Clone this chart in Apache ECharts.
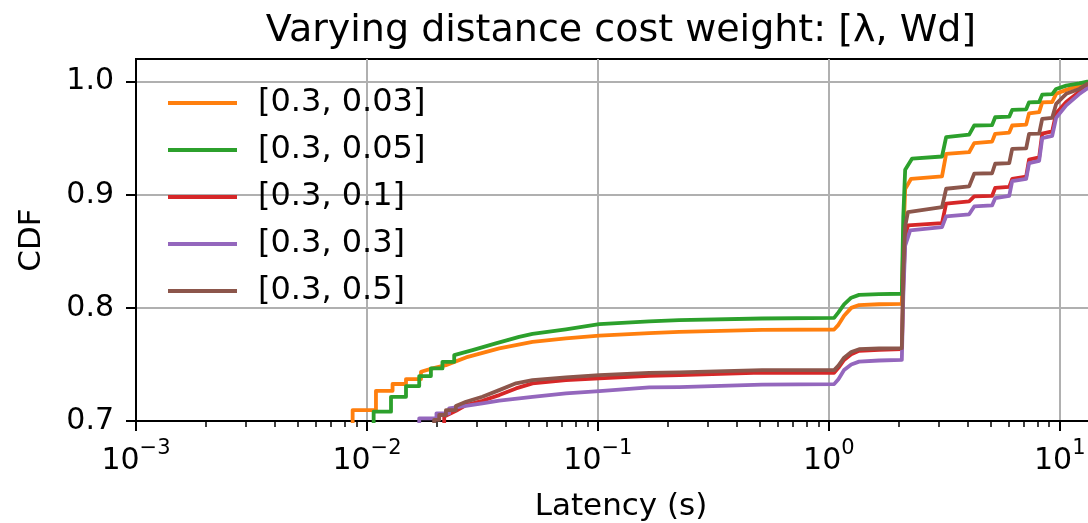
<!DOCTYPE html>
<html>
<head>
<meta charset="utf-8">
<script src="https://cdn.jsdelivr.net/npm/echarts@6/dist/echarts.min.js"></script>
<style>
  html, body { margin: 0; padding: 0; background: #fff; }
  #main { width: 1088px; height: 523px; }
</style>
</head>
<body>
<div id="main"></div>
<script>
// legend names, in plotting order
const names = ['[0.3, 0.03]', '[0.3, 0.05]', '[0.3, 0.1]', '[0.3, 0.3]', '[0.3, 0.5]'];
const colors = ['#ff7f0e', '#2ca02c', '#d62728', '#9467bd', '#8c564b'];

// [latency (s), CDF]
const w003 = [[0.00867, 0.69], [0.00867, 0.7097], [0.01094, 0.7097], [0.01094, 0.7267], [0.01291, 0.7267], [0.01291, 0.7327],
  [0.01476, 0.7327], [0.01476, 0.7371], [0.01714, 0.7371], [0.01714, 0.7435], [0.01923, 0.7465], [0.02198, 0.7494],
  [0.02685, 0.7562], [0.0374, 0.7642], [0.0521, 0.770], [0.0727, 0.773], [0.1014, 0.7755], [0.1668, 0.7777],
  [0.2249, 0.7788], [0.514, 0.7805], [1.054, 0.7809], [1.10, 0.785], [1.164, 0.793], [1.25, 0.80], [1.352, 0.8025],
  [1.65, 0.8032], [2.07, 0.8035], [2.10, 0.86], [2.14, 0.905], [2.27, 0.9141], [3.09, 0.9162], [3.22, 0.9362],
  [4.05, 0.9376], [4.26, 0.9456], [5.09, 0.947], [5.25, 0.9539], [6.04, 0.955], [6.22, 0.9612], [7.15, 0.962],
  [7.36, 0.972], [8.14, 0.973], [8.39, 0.9817], [9.27, 0.982], [9.64, 0.9892], [10.66, 0.9927], [12.14, 0.9965],
  [13.15, 0.9994], [16, 1.0]];
const w005 = [[0.01069, 0.69], [0.01069, 0.7082], [0.01271, 0.7082], [0.01271, 0.7214], [0.01476, 0.7214], [0.01476, 0.7309],
  [0.01684, 0.7309], [0.01684, 0.7397], [0.01892, 0.7397], [0.01892, 0.7465], [0.02123, 0.7465], [0.02123, 0.7523],
  [0.02387, 0.7523], [0.02387, 0.7582], [0.02865, 0.7626], [0.03615, 0.7686], [0.0456, 0.7744], [0.0521, 0.777],
  [0.0727, 0.781], [0.1014, 0.7856], [0.1668, 0.788], [0.2249, 0.7891], [0.514, 0.7906], [1.054, 0.7912], [1.10, 0.796],
  [1.164, 0.803], [1.25, 0.809], [1.352, 0.8115], [1.65, 0.8121], [2.07, 0.8125], [2.10, 0.88], [2.14, 0.922],
  [2.294, 0.932], [3.09, 0.9338], [3.22, 0.951], [4.05, 0.9532], [4.26, 0.9612], [5.09, 0.9615], [5.25, 0.9685],
  [6.04, 0.969], [6.22, 0.975], [7.15, 0.9755], [7.36, 0.9817], [8.14, 0.982], [8.39, 0.9885], [9.27, 0.989],
  [9.64, 0.9935], [10.66, 0.9965], [12.14, 0.9985], [13.15, 1.0], [16, 1.0]];
const w01 = [[0.0216, 0.69], [0.0216, 0.704], [0.0243, 0.709], [0.02685, 0.7141], [0.0316, 0.7179], [0.0374, 0.7229],
  [0.0442, 0.7288], [0.0521, 0.7333], [0.0727, 0.7362], [0.1014, 0.7377], [0.1668, 0.740], [0.2249, 0.7406],
  [0.514, 0.7428], [1.054, 0.7426], [1.10, 0.747], [1.164, 0.754], [1.25, 0.759], [1.352, 0.762], [1.65, 0.763],
  [2.07, 0.7635], [2.10, 0.82], [2.14, 0.862], [2.2, 0.8729], [3.09, 0.875], [3.22, 0.8921], [4.05, 0.8941],
  [4.26, 0.8985], [5.09, 0.899], [5.25, 0.906], [6.04, 0.907], [6.22, 0.914], [7.15, 0.916], [7.36, 0.931],
  [8.14, 0.933], [8.39, 0.954], [9.27, 0.956], [9.64, 0.972], [10.66, 0.982], [12.14, 0.991], [13.15, 0.995], [16, 0.998]];
const w03 = [[0.01684, 0.69], [0.01684, 0.7024], [0.0200, 0.7024], [0.0200, 0.7068], [0.0227, 0.7068], [0.0227, 0.7112],
  [0.0251, 0.7125], [0.0316, 0.7156], [0.0374, 0.718], [0.0521, 0.7214], [0.0727, 0.7244], [0.1014, 0.7265],
  [0.1668, 0.7297], [0.2249, 0.730], [0.514, 0.7322], [1.054, 0.7326], [1.10, 0.737], [1.164, 0.745], [1.25, 0.75],
  [1.352, 0.7525], [1.65, 0.7535], [2.07, 0.754], [2.10, 0.81], [2.14, 0.855], [2.25, 0.8685], [3.09, 0.8714],
  [3.22, 0.8809], [4.05, 0.8827], [4.26, 0.8897], [5.09, 0.8906], [5.25, 0.897], [6.04, 0.899], [6.22, 0.912],
  [7.15, 0.914], [7.36, 0.928], [8.14, 0.930], [8.39, 0.950], [9.27, 0.952], [9.64, 0.968], [10.66, 0.979],
  [12.14, 0.989], [13.15, 0.994], [16, 0.997]];
const w05 = [[0.01954, 0.69], [0.01954, 0.701], [0.02055, 0.701], [0.02055, 0.7053], [0.02198, 0.7053], [0.02198, 0.7097],
  [0.02427, 0.7097], [0.02427, 0.7132], [0.02685, 0.717], [0.0316, 0.7214], [0.0374, 0.7273], [0.0442, 0.7333],
  [0.0521, 0.7362], [0.0727, 0.7386], [0.1014, 0.7406], [0.1668, 0.7425], [0.2249, 0.743], [0.514, 0.745],
  [1.054, 0.745], [1.10, 0.749], [1.164, 0.756], [1.25, 0.761], [1.352, 0.7635], [1.65, 0.7641], [2.07, 0.7645],
  [2.10, 0.83], [2.14, 0.872], [2.2, 0.8847], [3.09, 0.8891], [3.22, 0.9053], [4.05, 0.9074], [4.26, 0.9186],
  [5.09, 0.919], [5.25, 0.9274], [6.04, 0.928], [6.22, 0.9406], [7.15, 0.941], [7.36, 0.9539], [8.14, 0.954],
  [8.39, 0.9671], [9.27, 0.968], [9.64, 0.9803], [10.66, 0.9892], [12.14, 0.9935], [13.15, 0.998], [16, 1.0]];
const seriesData = [w003, w005, w01, w03, w05];

// ticks
const xMin = 0.001;
const xMax = 15.85; // 10^1.2, the plot runs past the right edge
const yTicks = [0.7, 0.8, 0.9, 1.0];
const xMinorTicks = [];
for (let e = -3; e <= 1; e++) {
  for (let k = 2; k <= 9; k++) {
    const v = k * Math.pow(10, e);
    if (v < xMax) xMinorTicks.push(v);
  }
}

const font = 'DejaVu Sans';
const chart = echarts.init(document.getElementById('main'));

const supLabel = function (v) {
  const e = Math.log10(v);
  if (Math.abs(e - Math.round(e)) > 1e-6) return '';
  const n = Math.round(e);
  return '{b|10}{s|' + (n < 0 ? '\u2212' + (-n) : n) + '}';
};

chart.setOption({
  animation: false,
  backgroundColor: '#fff',
  textStyle: { fontFamily: font },
  title: {
    text: 'Varying distance cost weight: [\u03bb, Wd]',
    left: 616,
    textAlign: 'center',
    top: 7,
    textStyle: { fontFamily: font, fontSize: 38, fontWeight: 'normal', color: '#000' }
  },
  legend: {
    orient: 'vertical',
    left: 163,
    top: 82,
    itemWidth: 69,
    itemHeight: 4,
    itemGap: 15,
    icon: 'rect',
    data: names,
    textStyle: { fontFamily: font, fontSize: 32, lineHeight: 32, color: '#000', padding: [0, 0, 0, 16] }
  },
  grid: {
    left: 136, top: 59, bottom: 102, right: -18,
    containLabel: false,
    outerBoundsMode: 'none',
    show: true, borderColor: '#000', borderWidth: 2, backgroundColor: 'transparent'
  },
  xAxis: [{
    type: 'log',
    logBase: 10,
    min: xMin,
    max: xMax,
    name: 'Latency (s)',
    nameLocation: 'middle',
    nameGap: 70,
    nameTextStyle: { fontFamily: font, fontSize: 31, color: '#000' },
    axisLine: { show: true, lineStyle: { color: '#000', width: 2 } },
    axisTick: { show: true, inside: false, length: 10, lineStyle: { color: '#000', width: 2 } },
    axisLabel: {
      margin: 17,
      formatter: supLabel,
      rich: {
        b: { fontFamily: font, fontSize: 30, color: '#000', lineHeight: 38, verticalAlign: 'bottom' },
        s: { fontFamily: font, fontSize: 21, color: '#000', lineHeight: 38, verticalAlign: 'top' }
      }
    },
    splitLine: { show: true, lineStyle: { color: '#b0b0b0', width: 2 } }
  }, {
    type: 'log',
    logBase: 10,
    min: xMin,
    max: xMax,
    position: 'bottom',
    axisLine: { show: false },
    axisTick: { show: true, length: 6, customValues: xMinorTicks, lineStyle: { color: '#000', width: 1.5 } },
    axisLabel: { show: false },
    splitLine: { show: false }
  }],
  yAxis: {
    type: 'value',
    min: 0.7,
    max: 1.02,
    name: 'CDF',
    nameLocation: 'middle',
    nameGap: 89,
    nameTextStyle: { fontFamily: font, fontSize: 31, color: '#000' },
    axisLine: { show: true, lineStyle: { color: '#000', width: 2 } },
    axisTick: { show: true, length: 10, customValues: yTicks, lineStyle: { color: '#000', width: 2 } },
    axisLabel: {
      margin: 22,
      customValues: yTicks,
      fontFamily: font, fontSize: 30, color: '#000',
      formatter: v => v.toFixed(1)
    },
    splitLine: { show: true, lineStyle: { color: '#b0b0b0', width: 2 } }
  },
  series: seriesData.map((d, i) => ({
    name: names[i],
    type: 'line',
    data: d,
    showSymbol: false,
    symbol: 'none',
    clip: true,
    color: colors[i],
    lineStyle: { color: colors[i], width: 3.8, join: 'round' },
    z: 2 + i
  }))
});
</script>
</body>
</html>
